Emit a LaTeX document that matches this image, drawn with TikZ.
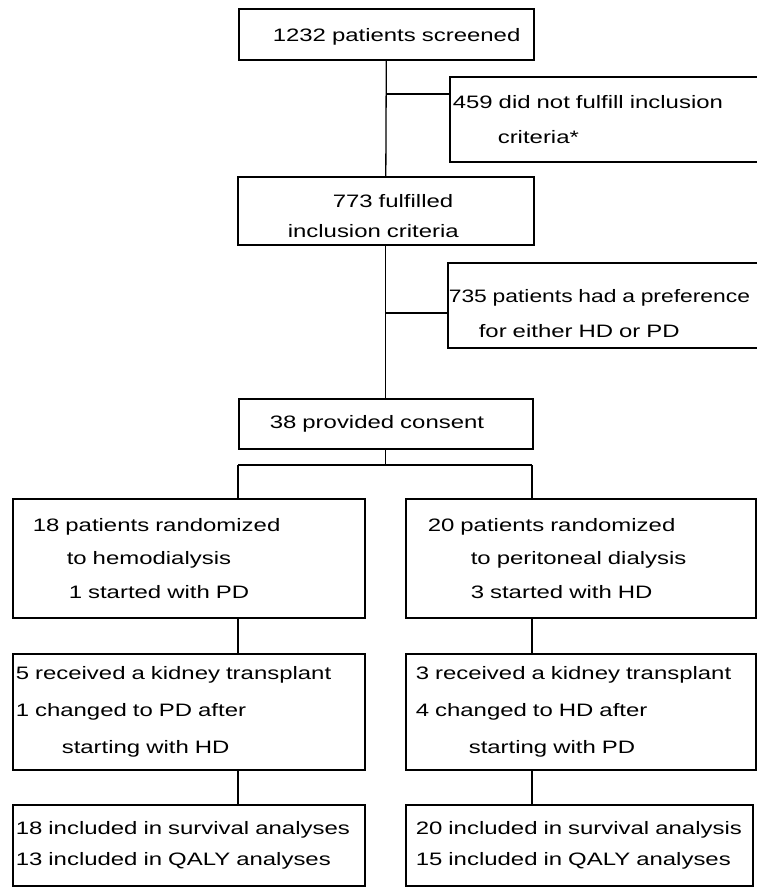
\documentclass[tikz,border=0pt]{standalone}
\usepackage{fontspec}
\setmainfont{Liberation Sans}[FakeStretch=1.33]

\tikzset{
  box/.style={draw, line width=1.6pt, anchor=north west, inner sep=0pt, align=left,
    font=\fontsize{18pt}{35pt}\selectfont},
  conn/.style={line width=1.3pt}
}

\begin{document}
\begin{tikzpicture}[x=1pt, y=-1pt]
\useasboundingbox (0,0) rectangle (757,887);
% screening column
\node[box, text width=295pt, minimum height=51pt] (scr) at (238,8)
  {\hspace*{34pt}\rule{0pt}{19pt}1232 patients screened};
\node[box, text width=330pt, minimum height=85pt] (excl1) at (449,76)
  {\hspace*{3pt}459 did not fulfill inclusion\\ \hspace*{48pt}criteria*};
\node[box, text width=296pt, minimum height=68pt] (incl) at (237,176)
  {\hspace*{95pt}\rule{0pt}{23pt}773 fulfilled\\[-5pt]\hspace*{50pt}inclusion criteria};
\node[box, text width=333pt, minimum height=85pt] (excl2) at (447,262)
  {\hspace*{1pt}\rule{0pt}{29pt}\scalebox{0.955}[1]{735 patients had a preference}\\ \hspace*{31pt}for either HD or PD};
\node[box, text width=294pt, minimum height=50pt] (cons) at (238,398)
  {\hspace*{31pt}38 provided consent};
% randomized arms
\node[box, text width=352pt, minimum height=119pt] (hd) at (12,498)
  {\hspace*{20pt}18 patients randomized\\[-1.5pt]\hspace*{54pt}to hemodialysis\\[-1.5pt]\hspace*{56pt}1 started with PD};
\node[box, text width=350pt, minimum height=119pt] (pd) at (405,498)
  {\hspace*{22pt}20 patients randomized\\[-1.5pt]\hspace*{65pt}to peritoneal dialysis\\[-1.5pt]\hspace*{65pt}3 started with HD};
\node[box, text width=352pt, minimum height=116pt] (hdtx) at (12,653)
  {\hspace*{3pt}5 received a kidney transplant\\[2pt]\hspace*{3pt}1 changed to PD after\\[2pt]\hspace*{49pt}starting with HD};
\node[box, text width=350pt, minimum height=116pt] (pdtx) at (405,653)
  {\hspace*{10pt}3 received a kidney transplant\\[2pt]\hspace*{10pt}4 changed to HD after\\[2pt]\hspace*{63pt}starting with PD};
\node[box, text width=352pt, minimum height=81pt] (hdan) at (12,804)
  {\hspace*{3pt}18 included in survival analyses\\[-4pt]\hspace*{3pt}13 included in QALY analyses};
\node[box, text width=347pt, minimum height=81pt] (pdan) at (405,804)
  {\hspace*{10pt}20 included in survival analysis\\[-4pt]\hspace*{10pt}15 included in QALY analyses};

% connectors
\draw[conn] (scr.south) -- (incl.north);
\coordinate (j1) at (scr.south |- 0,94);
\draw[conn] (j1) -- (j1 -| excl1.west);
\draw[conn] (incl.south) -- (cons.north);
\coordinate (j2) at (incl.south |- 0,313);
\draw[conn] (j2) -- (j2 -| excl2.west);
\coordinate (sl) at (238,465);
\coordinate (sr) at (532,465);
\draw[conn] (cons.south) -- (cons.south |- sl);
\draw[conn] (sl) -- (sr);
\draw[conn] (sl) -- (sl |- hd.north);
\draw[conn] (sr) -- (sr |- pd.north);
\draw[conn] (sl |- hd.south) -- (sl |- hdtx.north);
\draw[conn] (sr |- pd.south) -- (sr |- pdtx.north);
\draw[conn] (sl |- hdtx.south) -- (sl |- hdan.north);
\draw[conn] (sr |- pdtx.south) -- (sr |- pdan.north);
\end{tikzpicture}
\end{document}
